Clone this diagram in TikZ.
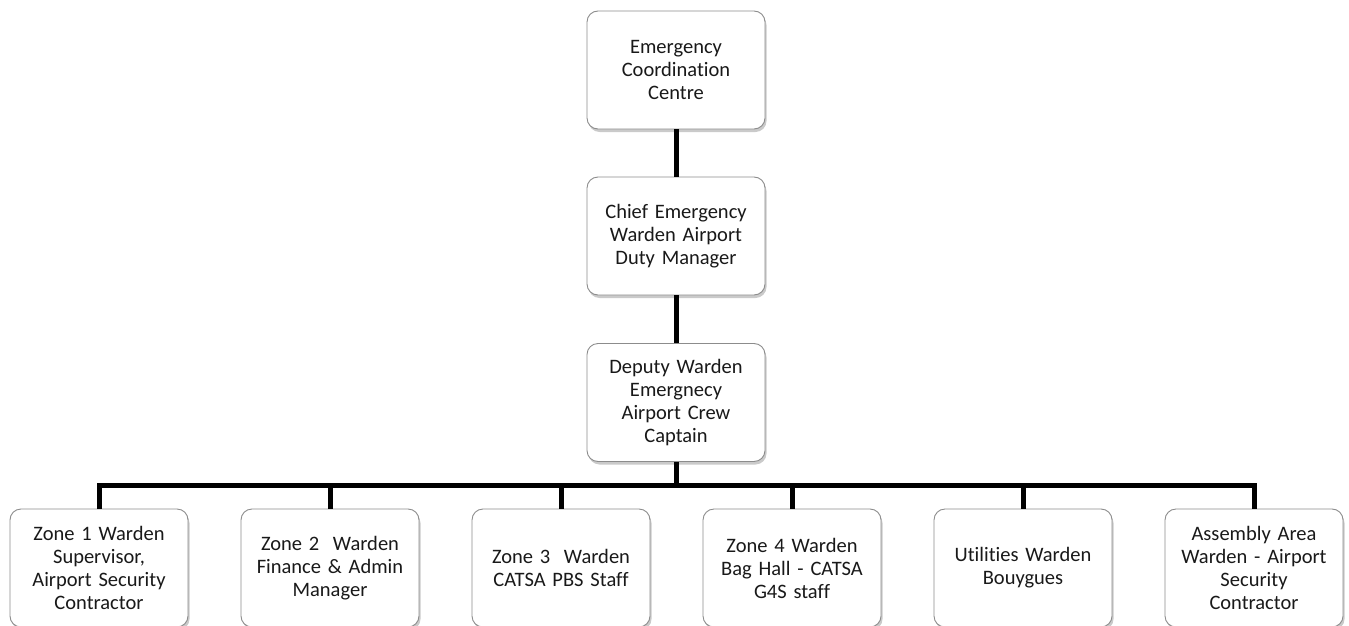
\documentclass[tikz,border=0pt]{standalone}
\usepackage{fontspec}
\setmainfont{Carlito}[Ligatures=NoCommon]
\usetikzlibrary{shadows}
\tikzset{
  box/.style={draw=black!45, line width=0.9pt, fill=white, rounded corners=11pt,
    minimum width=178pt, minimum height=118pt, align=center, text width=172pt,
    inner xsep=2pt, font=\fontsize{20.5}{23}\selectfont, text=black!90,
    drop shadow={shadow xshift=1.5pt, shadow yshift=-3pt, opacity=0.35, fill=black!60}},
  link/.style={line width=5pt, black}
}
\begin{document}
\begin{tikzpicture}[x=1pt,y=-1pt]
\useasboundingbox (0,0) rectangle (1349,626);
\node[box] (ecc) at (676,70) {Emergency\\Coordination\\Centre};
\node[box] (chief) at (676,236) {Chief Emergency\\Warden Airport\\Duty Manager};
\node[box] (dep) at (676,402.5) {Deputy Warden\\Emergnecy\\Airport Crew\\Captain};
\node[box] (z1) at (99,568) {Zone 1 Warden\\Supervisor,\\Airport Security\\Contractor};
\node[box] (z2) at (330,568) {Zone 2\ \ Warden\\Finance \& Admin\\Manager};
\node[box] (z3) at (561,568) {Zone 3\ \ Warden\\CATSA PBS Staff};
\node[box] (z4) at (792,568) {Zone 4 Warden\\Bag Hall - CATSA\\G4S staff};
\node[box] (z5) at (1023,568) {Utilities Warden\\Bouygues};
\node[box] (z6) at (1254,568) {Assembly Area\\Warden - Airport\\Security\\Contractor};
\coordinate (bar) at (676,485);
\draw[link] (ecc.south) -- (chief.north);
\draw[link] (chief.south) -- (dep.north);
\draw[link] (dep.south) -- (bar);
\draw[link] (z1.north) |- (bar) -| (z6.north);
\foreach \z in {z2,z3,z4,z5} \draw[link] (\z.north) -- (\z.north |- bar);
\end{tikzpicture}
\end{document}
